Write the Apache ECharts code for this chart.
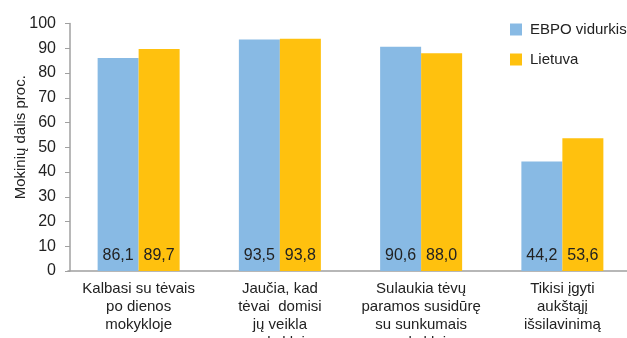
<!DOCTYPE html>
<html><head><meta charset="utf-8">
<script src="https://cdn.jsdelivr.net/npm/echarts@6/dist/echarts.min.js"></script>
<style>html,body{margin:0;padding:0;background:#fff}#c{width:627px;height:338px}</style>
</head><body><div id="c"></div>
<script>
var categories = ["Kalbasi su tėvais\npo dienos\nmokykloje", "Jaučia, kad\ntėvai  domisi\njų veikla\nmokykloje", "Sulaukia tėvų\nparamos susidūrę\nsu sunkumais\nmokykloje", "Tikisi įgyti\naukštąjį\nišsilavinimą"];
var seriesNames = ["EBPO vidurkis", "Lietuva"];
var ebpo = [86.1, 93.5, 90.6, 44.2];
var lietuva = [89.7, 93.8, 88.0, 53.6];
var yTicks = [0, 10, 20, 30, 40, 50, 60, 70, 80, 90, 100];

var font = 'Liberation Sans, Arial, sans-serif';
var chart = echarts.init(document.getElementById('c'));
function lbl(){
  return {show:true, position:'insideBottom', distance:7, color:'#222', fontSize:16, fontFamily:font,
    formatter:function(p){return p.value.toFixed(1).replace('.', ',');}};
}
chart.setOption({
  animation:false,
  textStyle:{fontFamily:font},
  legend:{orient:'vertical', left:505, top:17, itemWidth:12, itemHeight:12, itemGap:15,
    icon:'rect', textStyle:{fontSize:15, color:'#222', fontFamily:font, padding:[0,0,0,3]}, data:seriesNames},
  grid:{left:68, right:-6, top:23.5, bottom:67, containLabel:false, outerBoundsMode:'none'},
  xAxis:{type:'category', data:categories,
    axisLine:{lineStyle:{color:'#a0a0a0', width:1.5}}, axisTick:{show:false},
    axisLabel:{color:'#222', fontSize:15, lineHeight:18, margin:9, interval:0, fontFamily:font}},
  yAxis:{type:'value', min:yTicks[0], max:yTicks[yTicks.length-1], interval:10, offset:-2,
    name:'Mokinių dalis proc.', nameLocation:'middle', nameGap:42, nameMoveOverlap:false,
    nameTextStyle:{color:'#222', fontSize:15, fontFamily:font, padding:[0,0,0,20]},
    axisLine:{show:true, lineStyle:{color:'#a0a0a0', width:1.5}},
    axisTick:{show:true, length:5, lineStyle:{color:'#a0a0a0'}},
    splitLine:{show:false},
    axisLabel:{color:'#222', fontSize:16, margin:14, fontFamily:font}},
  series:[
    {name:seriesNames[0], type:'bar', data:ebpo, barWidth:41, barGap:'0%', itemStyle:{color:'#88BAE4'}, label:lbl()},
    {name:seriesNames[1], type:'bar', data:lietuva, barWidth:41, itemStyle:{color:'#FFC10E'}, label:lbl()}
  ]
});
</script></body></html>
